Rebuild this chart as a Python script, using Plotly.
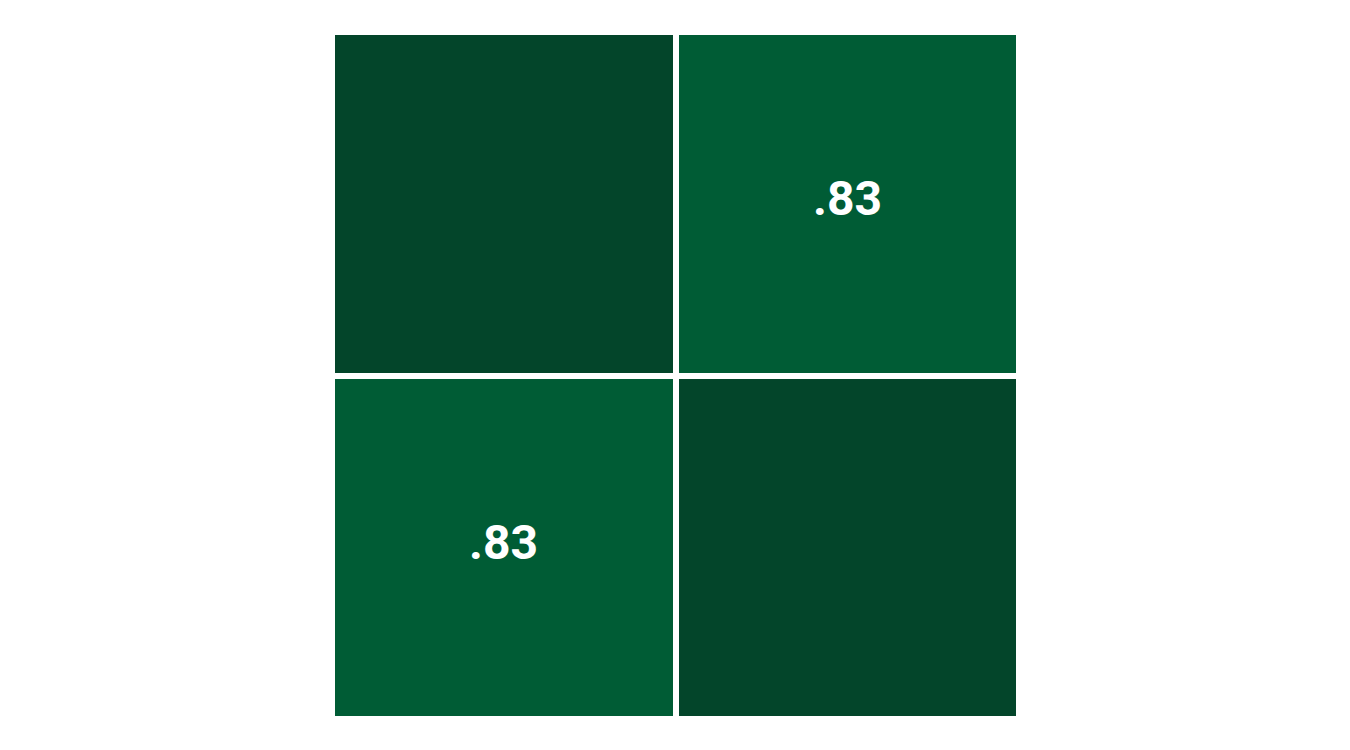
import plotly.graph_objects as go

variables = ["A", "B"]
corr = [[1.0, 0.83],
        [0.83, 1.0]]
labels = [["", ".83"],
          [".83", ""]]

fig = go.Figure(go.Heatmap(
    z=corr,
    x=variables,
    y=variables,
    colorscale=[[0, "#005C35"], [1, "#03452A"]],
    zmin=0.83, zmax=1.0,
    xgap=6, ygap=6,
    showscale=False,
    hoverinfo="skip",
))

for i, row in enumerate(labels):
    for j, lab in enumerate(row):
        if lab:
            fig.add_annotation(
                x=variables[j], y=variables[i], text=lab, showarrow=False,
                yshift=5,
                font=dict(family="Roboto, sans-serif", size=48, color="white", weight="bold"),
            )

fig.update_xaxes(visible=False, showgrid=False)
fig.update_yaxes(visible=False, showgrid=False, autorange="reversed")
fig.update_layout(
    width=1350, height=750,
    margin=dict(l=332, r=331, t=32, b=31),
    plot_bgcolor="white", paper_bgcolor="white",
)
fig.write_html("out.html")
